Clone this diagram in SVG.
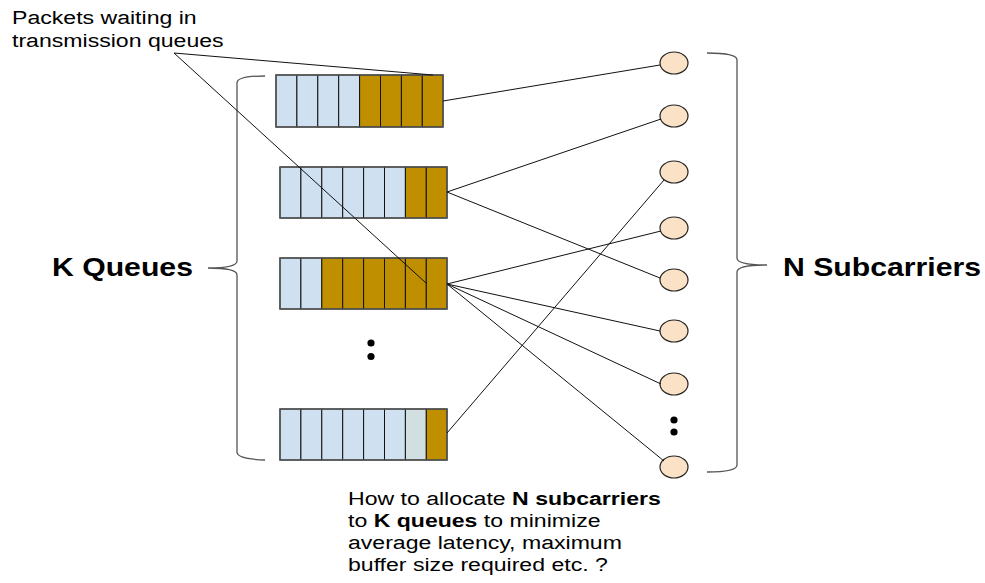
<svg xmlns="http://www.w3.org/2000/svg" width="985" height="583" viewBox="0 0 985 583">
<style>
.t{font-family:"Liberation Sans",Arial,sans-serif;fill:#000}
.sm{font-size:19px}
.big{font-size:26.5px;font-weight:bold}
.b{font-weight:bold}
.blue{fill:#cfe0f1;stroke:#111;stroke-width:1}
.gold{fill:#bf8f00;stroke:#111;stroke-width:1}
.grey{fill:#d1dfe0;stroke:#111;stroke-width:1}
.frame{fill:none;stroke:#555;stroke-width:1.5}
.sc{fill:#fbe2c6;stroke:#222;stroke-width:1.2}
.brace{fill:none;stroke:#555;stroke-width:1.3}
.ln{stroke:#111;stroke-width:1;fill:none}
</style>
<rect width="985" height="583" fill="#fff"/>

<g id="label-packets" class="t sm" transform="scale(1.215 1)">
<text x="9.9" y="24">Packets waiting in</text>
<text x="9.9" y="47">transmission queues</text>
</g>

<g id="queue1">
<rect class="blue" x="276" y="75" width="20.9" height="52"/>
<rect class="blue" x="296.9" y="75" width="20.9" height="52"/>
<rect class="blue" x="317.8" y="75" width="20.9" height="52"/>
<rect class="blue" x="338.7" y="75" width="20.9" height="52"/>
<rect class="gold" x="359.6" y="75" width="20.9" height="52"/>
<rect class="gold" x="380.5" y="75" width="20.9" height="52"/>
<rect class="gold" x="401.4" y="75" width="20.9" height="52"/>
<rect class="gold" x="422.3" y="75" width="20.7" height="52"/>
<rect class="frame" x="276" y="75" width="167" height="52"/>
</g>

<g id="queue2">
<rect class="blue" x="280" y="167" width="20.9" height="51"/>
<rect class="blue" x="300.9" y="167" width="20.9" height="51"/>
<rect class="blue" x="321.8" y="167" width="20.9" height="51"/>
<rect class="blue" x="342.7" y="167" width="20.9" height="51"/>
<rect class="blue" x="363.6" y="167" width="20.9" height="51"/>
<rect class="blue" x="384.5" y="167" width="20.9" height="51"/>
<rect class="gold" x="405.4" y="167" width="20.9" height="51"/>
<rect class="gold" x="426.3" y="167" width="20.7" height="51"/>
<rect class="frame" x="280" y="167" width="167" height="51"/>
</g>

<g id="queue3">
<rect class="blue" x="280" y="258" width="20.9" height="51"/>
<rect class="blue" x="300.9" y="258" width="20.9" height="51"/>
<rect class="gold" x="321.8" y="258" width="20.9" height="51"/>
<rect class="gold" x="342.7" y="258" width="20.9" height="51"/>
<rect class="gold" x="363.6" y="258" width="20.9" height="51"/>
<rect class="gold" x="384.5" y="258" width="20.9" height="51"/>
<rect class="gold" x="405.4" y="258" width="20.9" height="51"/>
<rect class="gold" x="426.3" y="258" width="20.7" height="51"/>
<rect class="frame" x="280" y="258" width="167" height="51"/>
</g>

<g id="queue-dots">
<circle cx="371" cy="343" r="3.6" fill="#000"/>
<circle cx="371" cy="356.5" r="3.6" fill="#000"/>
</g>

<g id="queue4">
<rect class="blue" x="280" y="409" width="20.9" height="51"/>
<rect class="blue" x="300.9" y="409" width="20.9" height="51"/>
<rect class="blue" x="321.8" y="409" width="20.9" height="51"/>
<rect class="blue" x="342.7" y="409" width="20.9" height="51"/>
<rect class="blue" x="363.6" y="409" width="20.9" height="51"/>
<rect class="blue" x="384.5" y="409" width="20.9" height="51"/>
<rect class="grey" x="405.4" y="409" width="20.9" height="51"/>
<rect class="gold" x="426.3" y="409" width="20.7" height="51"/>
<rect class="frame" x="280" y="409" width="167" height="51"/>
</g>

<g id="brace-left">
<path class="brace" d="M265,76 Q237,76 237,83 L237,261 Q237,268 208,268 Q237,268 237,275 L237,452 Q237,459 265,460"/>
</g>
<g id="label-k" class="t big" transform="scale(1.14 1)">
<text x="45.6" y="276">K Queues</text>
</g>

<g id="subcarriers">
<ellipse class="sc" cx="674" cy="63" rx="14" ry="11"/>
<ellipse class="sc" cx="674" cy="116" rx="14" ry="11"/>
<ellipse class="sc" cx="674" cy="172" rx="14" ry="11"/>
<ellipse class="sc" cx="674" cy="228" rx="14" ry="11"/>
<ellipse class="sc" cx="674" cy="280" rx="14" ry="11"/>
<ellipse class="sc" cx="674" cy="331" rx="14" ry="11"/>
<ellipse class="sc" cx="674" cy="384" rx="14" ry="11"/>
<ellipse class="sc" cx="674" cy="467" rx="14" ry="11"/>
<circle cx="674" cy="420" r="3.6" fill="#000"/>
<circle cx="674" cy="432" r="3.6" fill="#000"/>
</g>

<g id="brace-right">
<path class="brace" d="M707,53 Q737,53 737,60 L737,258 Q737,265 767,265 Q737,265 737,272 L737,465 Q737,472 707,472"/>
</g>
<g id="label-n" class="t big" transform="scale(1.14 1)">
<text x="686.8" y="276">N Subcarriers</text>
</g>

<g id="connectors" class="ln">
<line x1="174" y1="53" x2="433" y2="75"/>
<line x1="174" y1="53" x2="426" y2="283"/>
<line x1="443" y1="101" x2="660" y2="65"/>
<line x1="447" y1="192" x2="661" y2="119"/>
<line x1="447" y1="192" x2="660" y2="278"/>
<line x1="447" y1="284" x2="661" y2="231"/>
<line x1="447" y1="284" x2="660" y2="331"/>
<line x1="447" y1="284" x2="661" y2="384"/>
<line x1="447" y1="284" x2="664" y2="461"/>
<line x1="447" y1="433" x2="664" y2="180"/>
</g>

<g id="question" class="t sm" transform="scale(1.215 1)">
<text x="286.4" y="505">How to allocate <tspan class="b">N subcarriers</tspan></text>
<text x="286.4" y="527">to <tspan class="b">K queues</tspan> to minimize</text>
<text x="286.4" y="549">average latency, maximum</text>
<text x="286.4" y="571">buffer size required etc. ?</text>
</g>
</svg>
